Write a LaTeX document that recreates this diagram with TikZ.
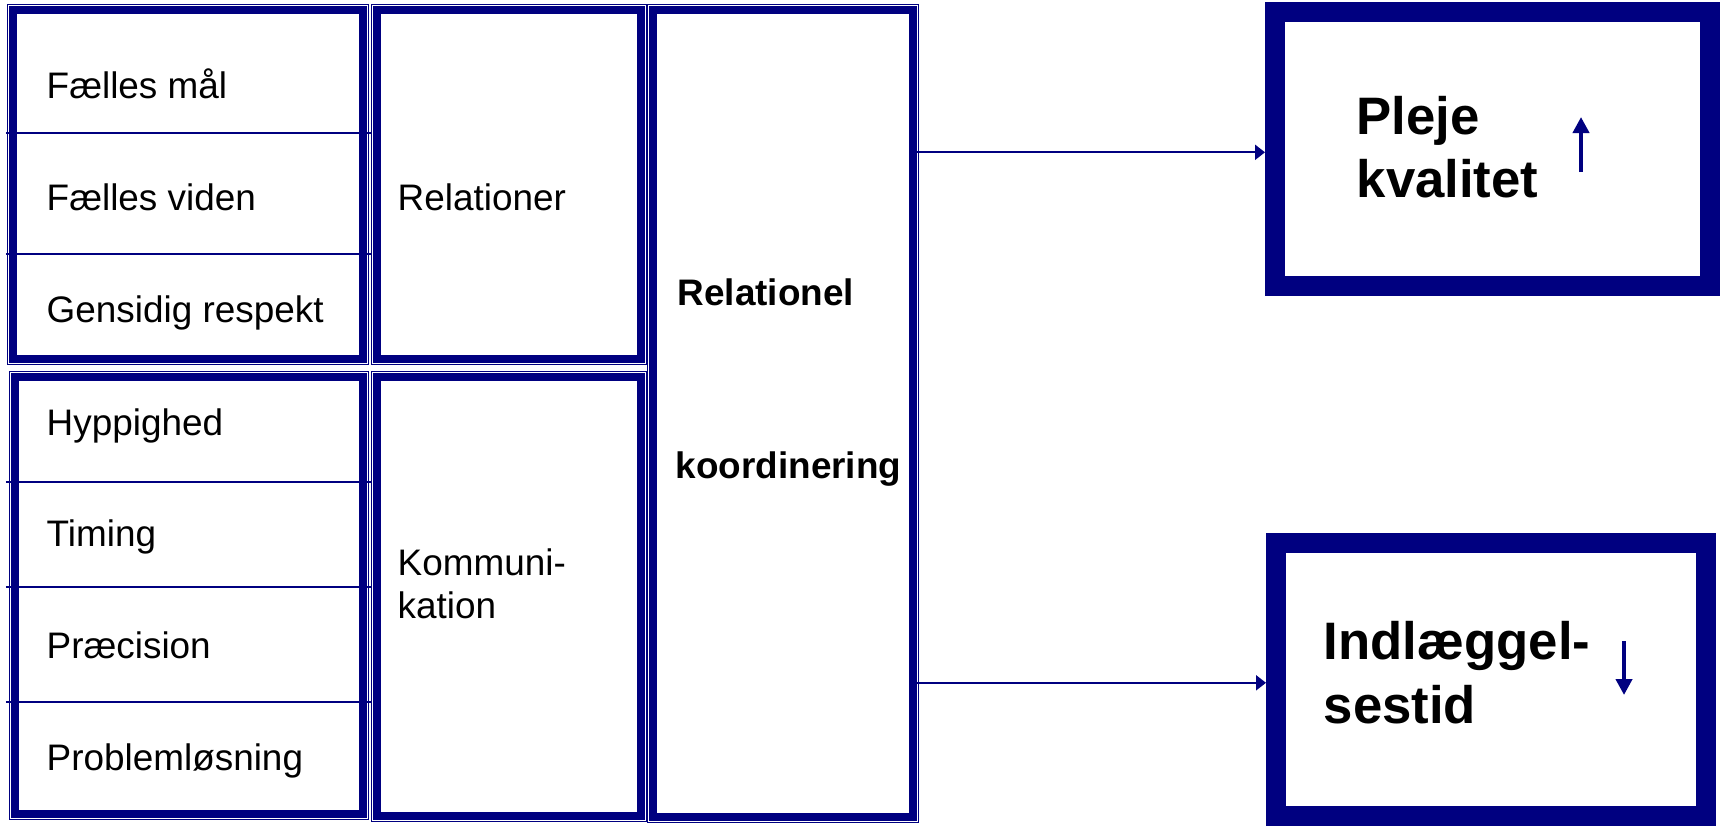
\documentclass[tikz,border=0pt]{standalone}
\usepackage{fontspec}
\setmainfont{Liberation Sans}
\usetikzlibrary{arrows.meta,positioning}
\definecolor{navy}{HTML}{000080}
\tikzset{blk/.style={draw=navy, line width=2.28pt, inner sep=0pt}, outbox/.style={draw=navy, line width=5.69pt, inner sep=0pt}, thinframe/.style={draw=navy, line width=.3pt}, divline/.style={draw=navy, line width=.5pt}, cell/.style={anchor=base west, inner sep=0pt, font=\fontsize{10.5}{12.2}\selectfont}, boldlab/.style={cell, font=\bfseries\fontsize{10.5}{12.2}\selectfont}, big/.style={anchor=north west, inner sep=0pt, align=left, font=\bfseries\fontsize{15}{18.1}\selectfont}, flow/.style={-{Triangle[length=1mm,width=1.5mm]}, draw=navy, line width=.6pt}, trend/.style={-{Triangle[length=1.6mm,width=1.6mm]}, draw=navy, line width=1.4pt}}

\begin{document}
\begin{tikzpicture}[y=-1cm]
\useasboundingbox (0,0) rectangle (17.21,8.25);
% blocks
\node[blk, minimum width=3.5cm, minimum height=3.49cm] (fgrid) at (1.88,1.845) {};
\node[blk, minimum width=3.48cm, minimum height=4.37cm] (kgrid) at (1.89,5.955) {};
\node[blk, minimum width=2.64cm, minimum height=3.49cm] (relbox) at (5.09,1.845) {};
\node[blk, minimum width=2.64cm, minimum height=4.39cm] (kombox) at (5.09,5.965) {};
\node[blk, minimum width=2.6cm, minimum height=8.07cm] (koordbox) at (7.83,4.135) {};
\foreach \b in {fgrid,kgrid,relbox,kombox,koordbox} \draw[thinframe] ([shift={(-.015,-.015)}]\b.north west) rectangle ([shift={(.015,.015)}]\b.south east);
\foreach \y in {1.33,2.54,4.82,5.87,7.02} \draw[divline] (.06,\y) -- (3.72,\y);
\node[outbox, minimum width=4.35cm, minimum height=2.74cm] (plejebox) at (14.925,1.49) {};
\node[outbox, minimum width=4.3cm, minimum height=2.73cm] (indlbox) at (14.91,6.795) {};
% texts
\node[cell] (maal) at (.46,.98) {Fælles mål};
\node[cell] (viden) at (.46,2.10) {Fælles viden};
\node[cell] (respekt) at (.46,3.22) {Gensidig respekt};
\node[cell] (hypp) at (.46,4.35) {Hyppighed};
\node[cell] (timing) at (.46,5.46) {Timing};
\node[cell] (praec) at (.46,6.58) {Præcision};
\node[cell] (probl) at (.46,7.70) {Problemløsning};
\node[cell] (reltxt) at (3.97,2.10) {Relationer};
\node[cell, anchor=north west, align=left] (komtxt) at (3.97,5.48) {Kommuni-\\kation};
\node[boldlab] (koordA) at (6.77,3.05) {Relationel};
\node[boldlab] (koordB) at (6.75,4.78) {koordinering};
\node[big] (plejetxt) at (13.56,.953) {Pleje\\kvalitet};
\node[big] (indltxt) at (13.23,6.21) {Indlæggel-\\sestid};
% arrows
\draw[flow] ([yshift=-.033cm]koordbox.east |- plejebox) -- ([yshift=-.033cm]plejebox.west);
\draw[flow] ([yshift=-.033cm]koordbox.east |- indlbox) -- ([yshift=-.033cm]indlbox.west);
\coordinate (up) at (15.81,1.72); \draw[trend] (up) -- ++(0,-.55);
\coordinate (down) at (16.24,6.41); \draw[trend] (down) -- ++(0,.54);
\end{tikzpicture}
\end{document}
